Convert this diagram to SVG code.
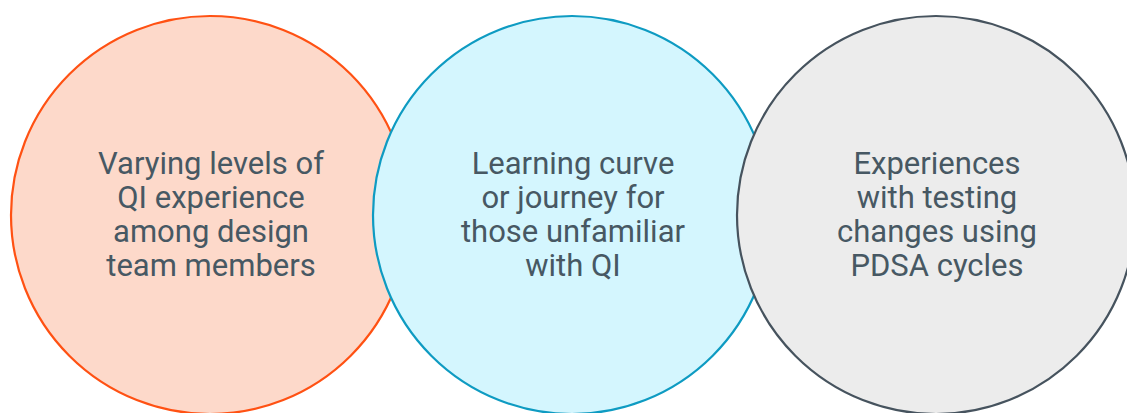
<svg xmlns="http://www.w3.org/2000/svg" width="1127" height="413" viewBox="0 0 1127 413">
<style>
.c{stroke-width:2.2}
.t{font-family:Roboto,"Liberation Sans",sans-serif;font-size:31px;fill:#475863;text-anchor:middle}
</style>
<rect width="1127" height="413" fill="#ffffff"/>
<g id="node1">
<circle class="c" cx="210" cy="215" r="199" fill="#FDD9CA" stroke="#FF5113"/>
<text class="t" x="211" y="174">Varying levels of</text>
<text class="t" x="211" y="208">QI experience</text>
<text class="t" x="211" y="242">among design</text>
<text class="t" x="211" y="276">team members</text>
</g>
<g id="node2">
<circle class="c" cx="572" cy="215" r="199" fill="#D4F6FE" stroke="#0E9BC2"/>
<text class="t" x="573" y="174">Learning curve</text>
<text class="t" x="573" y="208">or journey for</text>
<text class="t" x="573" y="242">those unfamiliar</text>
<text class="t" x="573" y="276">with QI</text>
</g>
<g id="node3">
<circle class="c" cx="936" cy="215" r="199" fill="#ECECEC" stroke="#46535E"/>
<text class="t" x="937" y="174">Experiences</text>
<text class="t" x="937" y="208">with testing</text>
<text class="t" x="937" y="242">changes using</text>
<text class="t" x="937" y="276">PDSA cycles</text>
</g>
<g id="connectors"></g>
</svg>
